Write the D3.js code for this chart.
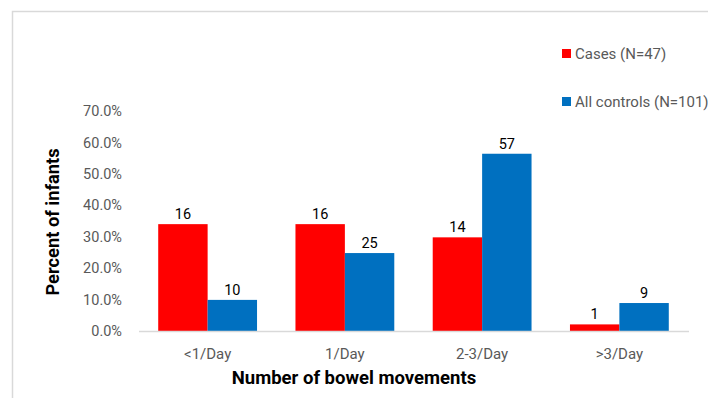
<!DOCTYPE html>
<html>
<head>
<meta charset="utf-8">
<script src="https://cdn.jsdelivr.net/npm/d3@7"></script>
<style>
  html, body { margin: 0; padding: 0; background: #fff; }
  svg { display: block; }
  text { font-family: "Roboto", sans-serif; }
</style>
</head>
<body>
<svg id="chart" width="708" height="398"></svg>
<script>
// Bowel movement frequency, cases vs. all controls
const categories = ["<1/Day", "1/Day", "2-3/Day", ">3/Day"];
const seriesNames = ["Cases (N=47)", "All controls (N=101)"];
const casesPercent = [34.0, 34.0, 29.8, 2.1];
const controlsPercent = [9.9, 24.8, 56.4, 8.9];
const casesCounts = [16, 16, 14, 1];
const controlsCounts = [10, 25, 57, 9];
const yTicks = [0, 10, 20, 30, 40, 50, 60, 70];
const colors = ["#ff0000", "#0070c0"];

const series = [
  { name: seriesNames[0], values: casesPercent, counts: casesCounts, color: colors[0] },
  { name: seriesNames[1], values: controlsPercent, counts: controlsCounts, color: colors[1] }
];

const svg = d3.select("#chart");

// outer chart frame
svg.append("rect")
  .attr("x", 12.5).attr("y", 11.5)
  .attr("width", 720).attr("height", 420)
  .attr("fill", "none").attr("stroke", "#d9d9d9").attr("stroke-width", 1.5);

const plot = { left: 139, right: 688, top: 111, bottom: 331 };

const x = d3.scaleBand()
  .domain(categories)
  .range([plot.left, plot.right])
  .paddingInner(0.28)
  .paddingOuter(0.14);

const xInner = d3.scaleBand()
  .domain(series.map(s => s.name))
  .range([0, x.bandwidth()]);

const y = d3.scaleLinear().domain([0, 70]).range([plot.bottom, plot.top]);

// y axis tick labels (no axis line)
const yAxis = d3.axisLeft(y)
  .tickValues(yTicks)
  .tickFormat(d => d.toFixed(1) + "%")
  .tickSize(0)
  .tickPadding(0);
const yg = svg.append("g").attr("transform", `translate(122,0)`).call(yAxis);
yg.select(".domain").remove();
yg.selectAll("text")
  .attr("fill", "#595959")
  .style("font-size", "14.5px");

// bars
const groups = svg.append("g").selectAll("g")
  .data(series)
  .join("g")
  .attr("fill", d => d.color);

groups.selectAll("rect")
  .data(s => s.values.map((v, i) => ({ s, v, c: s.counts[i], cat: categories[i] })))
  .join("rect")
  .attr("x", d => x(d.cat) + xInner(d.s.name))
  .attr("y", d => y(d.v))
  .attr("width", xInner.bandwidth())
  .attr("height", d => y(0) - y(d.v));

// count labels above bars
svg.append("g").selectAll("text")
  .data(series.flatMap(s => s.values.map((v, i) => ({ s, v, c: s.counts[i], cat: categories[i] }))))
  .join("text")
  .attr("x", d => x(d.cat) + xInner(d.s.name) + xInner.bandwidth() / 2)
  .attr("y", d => y(d.v) - 5)
  .attr("text-anchor", "middle")
  .attr("fill", "#000")
  .style("font-size", "14.5px")
  .text(d => d.c);

// x axis baseline and category labels
const xAxis = d3.axisBottom(x).tickSize(0).tickPadding(17);
const xg = svg.append("g").attr("transform", `translate(0,${plot.bottom})`).call(xAxis);
xg.select(".domain")
  .attr("stroke", "#d9d9d9").attr("stroke-width", 1.5)
  .attr("d", `M${plot.left},0.5H${plot.right + 1}`);
xg.selectAll("text")
  .attr("fill", "#595959")
  .style("font-size", "15px");

// axis titles
svg.append("text")
  .attr("transform", "translate(59,222) rotate(-90)")
  .attr("text-anchor", "middle")
  .attr("fill", "#000")
  .style("font-size", "18.3px")
  .style("font-weight", "bold")
  .text("Percent of infants");

svg.append("text")
  .attr("x", 354).attr("y", 384)
  .attr("text-anchor", "middle")
  .attr("fill", "#000")
  .style("font-size", "18.5px")
  .style("font-weight", "bold")
  .text("Number of bowel movements");

// legend
const legend = svg.append("g").selectAll("g")
  .data(series)
  .join("g")
  .attr("transform", (d, i) => `translate(562,${49 + i * 48})`);
legend.append("rect")
  .attr("width", 9).attr("height", 9)
  .attr("fill", d => d.color);
legend.append("text")
  .attr("x", 13).attr("y", 9.5)
  .attr("fill", "#595959")
  .style("font-size", "15px")
  .text(d => d.name);
</script>
</body>
</html>
